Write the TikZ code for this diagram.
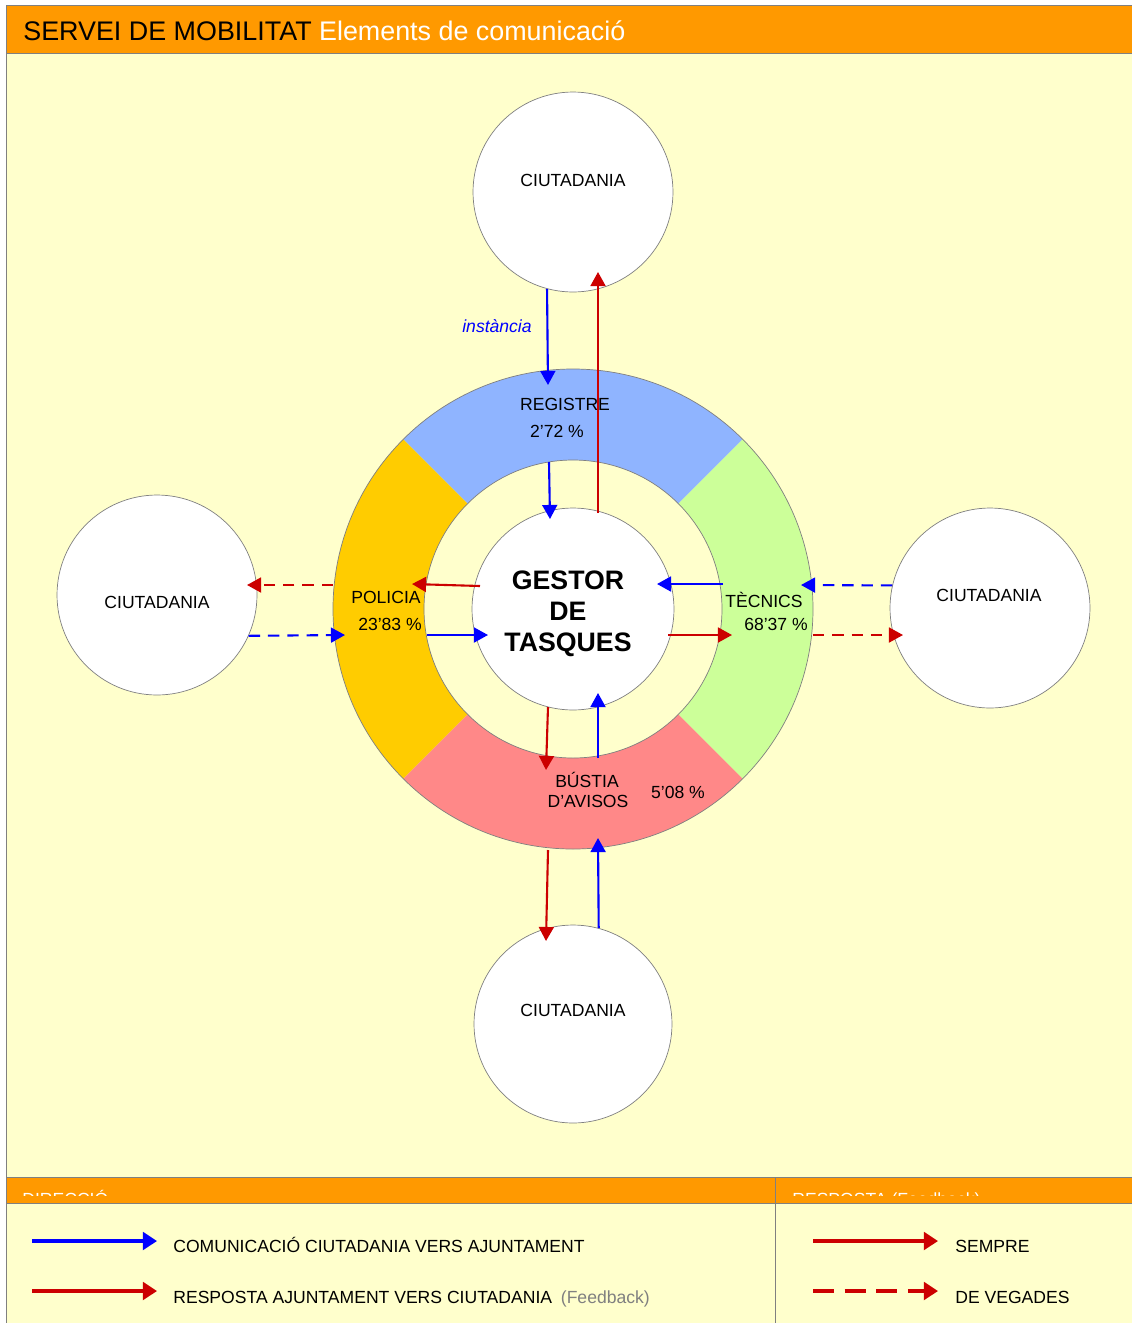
\documentclass[tikz,border=0pt]{standalone}
\usepackage{fontspec}
\setmainfont{Liberation Sans}
\usetikzlibrary{arrows.meta}
\usetikzlibrary{calc}

\definecolor{paper}{HTML}{FFFFCC}
\definecolor{bandorange}{HTML}{FF9900}
\definecolor{regblue}{HTML}{8FB4FF}
\definecolor{polorange}{HTML}{FFCC00}
\definecolor{tecgreen}{HTML}{CCFF99}
\definecolor{bustpink}{HTML}{FF8888}
\definecolor{commblue}{HTML}{0000FF}
\definecolor{respred}{HTML}{CC0000}
\definecolor{edgegray}{HTML}{808080}

\tikzset{
  citizen/.style={circle,draw=edgegray,fill=white,inner sep=0pt,minimum size=4cm},
  lbl/.style={font=\fontsize{10}{12}\selectfont,inner sep=0pt,anchor=base},
  comm/.style={commblue,line width=1.2pt,-{Triangle[length=8pt,width=8.5pt]}},
  resp/.style={respred,line width=1.2pt,-{Triangle[length=8pt,width=8.5pt]}},
  sometimes/.style={dash pattern=on 6.5pt off 4.5pt},
  keyarrow/.style={line width=1.8pt,-{Triangle[length=8pt,width=10pt]}}
}

\begin{document}
\begin{tikzpicture}[x=0.02cm,y=-0.02cm]
  \useasboundingbox (0,0) rectangle (1132,1323);
  \fill[paper] (6,5) rectangle (1132,1323);
  \fill[bandorange] (6,5) rectangle (1132,53);
  \fill[bandorange] (6,1178) rectangle (1132,1203);
  \draw[edgegray] (1132,5) -- (6,5) -- (6,1323);
  \draw[edgegray] (6,53) -- (1132,53) (6,1177) -- (1132,1177) (6,1203) -- (1132,1203) (775,1177) -- (775,1323);

  \node[anchor=base west,inner sep=0pt,font=\fontsize{15.3}{18}\selectfont] (title) at (23,40)
    {SERVEI DE MOBILITAT \textcolor{white}{Elements de comunicació}};

  % anella
  \coordinate (ring) at (573,609);
  \fill[regblue] ($(ring)+(225:240)$) arc[start angle=225,end angle=315,radius=240]
    -- ($(ring)+(315:149)$) arc[start angle=315,end angle=225,radius=149] -- cycle;
  \fill[polorange] ($(ring)+(135:240)$) arc[start angle=135,end angle=225,radius=240]
    -- ($(ring)+(225:149)$) arc[start angle=225,end angle=135,radius=149] -- cycle;
  \fill[tecgreen] ($(ring)+(-45:240)$) arc[start angle=-45,end angle=45,radius=240]
    -- ($(ring)+(45:149)$) arc[start angle=45,end angle=-45,radius=149] -- cycle;
  \fill[bustpink] ($(ring)+(45:240)$) arc[start angle=45,end angle=135,radius=240]
    -- ($(ring)+(135:149)$) arc[start angle=135,end angle=45,radius=149] -- cycle;
  \draw[edgegray] (ring) circle[radius=240] (ring) circle[radius=149];

  \node[citizen,minimum size=4.04cm] (gestor) at (573,609) {};
  \node[align=center,inner sep=0pt,font=\fontsize{15.2}{17.6}\selectfont\bfseries] (gestorTxt) at (568,614) {GESTOR\\DE\\TASQUES};

  \node[citizen] (cN) at (573,192) {};
  \node[citizen] (cW) at (157,595) {};
  \node[citizen] (cE) at (990,608) {};
  \node[citizen,minimum size=3.96cm] (cS) at (573,1024) {};
  \node[lbl] (tN) at (573,186) {CIUTADANIA};
  \node[lbl] (tW) at (157,608) {CIUTADANIA};
  \node[lbl] (tE) at (989,601) {CIUTADANIA};
  \node[lbl] (tS) at (573,1016) {CIUTADANIA};

  \node[lbl] (reg) at (565,410) {REGISTRE};
  \node[lbl] (regPct) at (557,437.5) {2’72 \%};
  \node[lbl] (pol) at (386,603) {POLICIA};
  \node[lbl] (polPct) at (390,630) {23’83 \%};
  \node[lbl] (tec) at (764,607) {TÈCNICS};
  \node[lbl] (tecPct) at (776,630) {68’37 \%};
  \node[lbl] (bus) at (587,787) {BÚSTIA};
  \node[lbl] (busB) at (588,807) {D’AVISOS};
  \node[lbl] (busPct) at (678,798) {5’08 \%};
  \node[lbl,commblue,font=\fontsize{10}{12}\selectfont\itshape] (inst) at (497,332) {instància};

  % extrems de les fletxes
  \coordinate (regTop) at (548,385);
  \coordinate (cNtip) at (598,272);
  \coordinate (gTop) at (598,513);
  \coordinate (regIn) at (549,462);
  \coordinate (gTopIn) at (550,519);
  \coordinate (polOut) at (333,585);
  \coordinate (cWtip) at (247,585);
  \coordinate (polIn) at (345,635);
  \coordinate (gLeft) at (480,586);
  \coordinate (polTip) at (412,584);
  \coordinate (polIn2) at (427,635);
  \coordinate (gLeftTip) at (488,635);
  \coordinate (tecIn) at (723,584);
  \coordinate (gRightTip) at (657,584);
  \coordinate (gRight) at (668,635);
  \coordinate (tecTip) at (732,635);
  \coordinate (tecOutTip) at (801,585);
  \coordinate (tecOut) at (813,635);
  \coordinate (cEtip) at (903,635);
  \coordinate (gBot) at (548,707);
  \coordinate (busTip) at (546,770);
  \coordinate (busIn) at (598,758);
  \coordinate (gBotTip) at (598,693);
  \coordinate (busOut) at (548,850);
  \coordinate (cStip) at (546,941);
  \coordinate (busOutTip) at (598,838);

  \draw[comm] (cN.255) -- (regTop);
  \draw[resp] (gTop) -- (cNtip);
  \draw[comm] (regIn) -- (gTopIn);

  \draw[resp,sometimes] (polOut) -- (cWtip);
  \draw[comm,sometimes] (cW.-24) -- (polIn);
  \draw[resp] (gLeft) -- (polTip);
  \draw[comm] (polIn2) -- (gLeftTip);

  \draw[comm] (tecIn) -- (gRightTip);
  \draw[resp] (gRight) -- (tecTip);
  \draw[comm,sometimes] (cE.167) -- (tecOutTip);
  \draw[resp,sometimes] (tecOut) -- (cEtip);

  \draw[resp] (gBot) -- (busTip);
  \draw[comm] (busIn) -- (gBotTip);
  \draw[resp] (busOut) -- (cStip);
  \draw[comm] (cS.75) -- (busOutTip);

  % llegenda
  \begin{scope}
    \clip (6,1178) rectangle (1132,1195);
    \node[lbl,anchor=base west,white] (hDir) at (22,1205) {DIRECCIÓ};
    \node[lbl,anchor=base west,white] (hResp) at (792,1205) {RESPOSTA (Feedback)};
  \end{scope}

  \coordinate (k1s) at (32,1241);
  \coordinate (k1e) at (157,1241);
  \coordinate (k2s) at (32,1291);
  \coordinate (k2e) at (157,1291);
  \coordinate (k3s) at (813,1241);
  \coordinate (k3e) at (938,1241);
  \coordinate (k4s) at (813,1291);
  \coordinate (k4e) at (938,1291);
  \draw[keyarrow,commblue] (k1s) -- (k1e);
  \draw[keyarrow,respred] (k2s) -- (k2e);
  \draw[keyarrow,respred] (k3s) -- (k3e);
  \draw[keyarrow,respred,dash pattern=on 12pt off 6pt] (k4s) -- (k4e);
  \node[lbl,anchor=base west] (keyComm) at (173,1252) {COMUNICACIÓ CIUTADANIA VERS AJUNTAMENT};
  \node[lbl,anchor=base west] (keyResp) at (173,1303) {RESPOSTA AJUNTAMENT VERS CIUTADANIA\hspace{5pt}\textcolor{gray}{(Feedback)}};
  \node[lbl,anchor=base west] (keyAlw) at (955,1252) {SEMPRE};
  \node[lbl,anchor=base west] (keySom) at (955,1303) {DE VEGADES};
\end{tikzpicture}
\end{document}
